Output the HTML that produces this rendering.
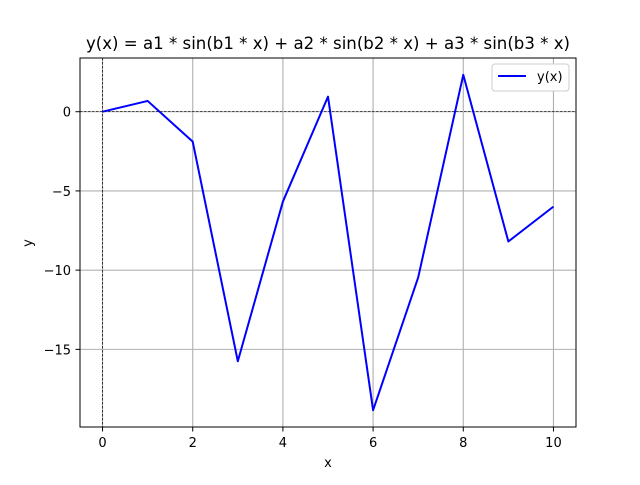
<!DOCTYPE html>
<html><head><meta charset="utf-8"><style>
body{margin:0;background:#fff}
svg text{font-family:"DejaVu Sans","Liberation Sans",sans-serif;fill:#000}
</style></head><body>
<svg id="chart" width="640" height="480" xmlns="http://www.w3.org/2000/svg">
<rect width="640" height="480" fill="#fff"/>
<g id="grid"></g>
<g id="series"></g>
<rect x="80" y="58" width="496" height="369" fill="none" stroke="#000" stroke-width="1"/>
<g id="ticks"></g>
<text x="328" y="49" font-size="16.6" text-anchor="middle">y(x) = a1 * sin(b1 * x) + a2 * sin(b2 * x) + a3 * sin(b3 * x)</text>
<text x="328" y="467" font-size="13" text-anchor="middle">x</text>
<text x="32" y="243" font-size="13" text-anchor="middle" transform="rotate(-90 32 243)">y</text>
<g>
<rect x="492" y="64" width="77" height="27" rx="3" fill="#fff" stroke="#ccc"/>
<line x1="498" y1="76" x2="526" y2="76" stroke="#0000ff" stroke-width="2"/>
<text x="537" y="81" font-size="13">y(x)</text>
</g>
</svg>
<script>
const xs=[0,1,2,3,4,5,6,7,8,9,10];
const ys=[0,0.68,-1.89,-15.75,-5.67,0.95,-18.84,-10.46,2.33,-8.19,-5.99];
const xTicks=[0,2,4,6,8,10];
const yTicks=[0,-5,-10,-15];
const yTickLabels=["0","\u22125","\u221210","\u221215"];
const X0=80,X1=576,Y0=58,Y1=427,xmin=-0.5,xmax=10.5,ymin=-19.9,ymax=3.39;
const sx=v=>X0+(v-xmin)/(xmax-xmin)*(X1-X0);
const sy=v=>Y1-(v-ymin)/(ymax-ymin)*(Y1-Y0);
const NS="http://www.w3.org/2000/svg";
const grid=document.getElementById('grid'),ticks=document.getElementById('ticks'),series=document.getElementById('series');
function mk(tag,attrs,parent){const e=document.createElementNS(NS,tag);for(const k in attrs)e.setAttribute(k,attrs[k]);parent.appendChild(e);return e;}
xTicks.forEach(t=>{const x=sx(t);
 let g=mk('line',{x1:x,x2:x,y1:Y0,y2:Y1,stroke:'#b0b0b0','stroke-width':1.1},grid);
 
 
 let k=mk('line',{x1:x,x2:x,y1:Y1,y2:Y1+4.5,stroke:'#000','stroke-width':1},ticks);
 
 
 let l=mk('text',{x:x,y:Y1+20,'font-size':13,'text-anchor':'middle'},ticks);l.textContent=t;
 
 
});
yTicks.forEach((t,i)=>{const y=sy(t);
 let g=mk('line',{x1:X0,x2:X1,y1:y,y2:y,stroke:'#b0b0b0','stroke-width':1.1},grid);
 
 
 let k=mk('line',{x1:X0-4.5,x2:X0,y1:y,y2:y,stroke:'#000','stroke-width':1},ticks);
 
 
 let l=mk('text',{x:X0-9,y:y+5,'font-size':13,'text-anchor':'end'},ticks);l.textContent=yTickLabels[i];
 
 
});
let h=mk('line',{x1:X0,x2:X1,y1:sy(0),y2:sy(0),stroke:'#000','stroke-width':0.7,'stroke-dasharray':'2.5,1.5'},series);


let v=mk('line',{x1:sx(0),x2:sx(0),y1:Y0,y2:Y1,stroke:'#000','stroke-width':0.7,'stroke-dasharray':'2.5,1.5'},series);


let p=mk('polyline',{points:xs.map((x,i)=>sx(x)+','+sy(ys[i])).join(' '),fill:'none',stroke:'#0000ff','stroke-width':2,'stroke-linejoin':'round'},series);


</script>
</body></html>
